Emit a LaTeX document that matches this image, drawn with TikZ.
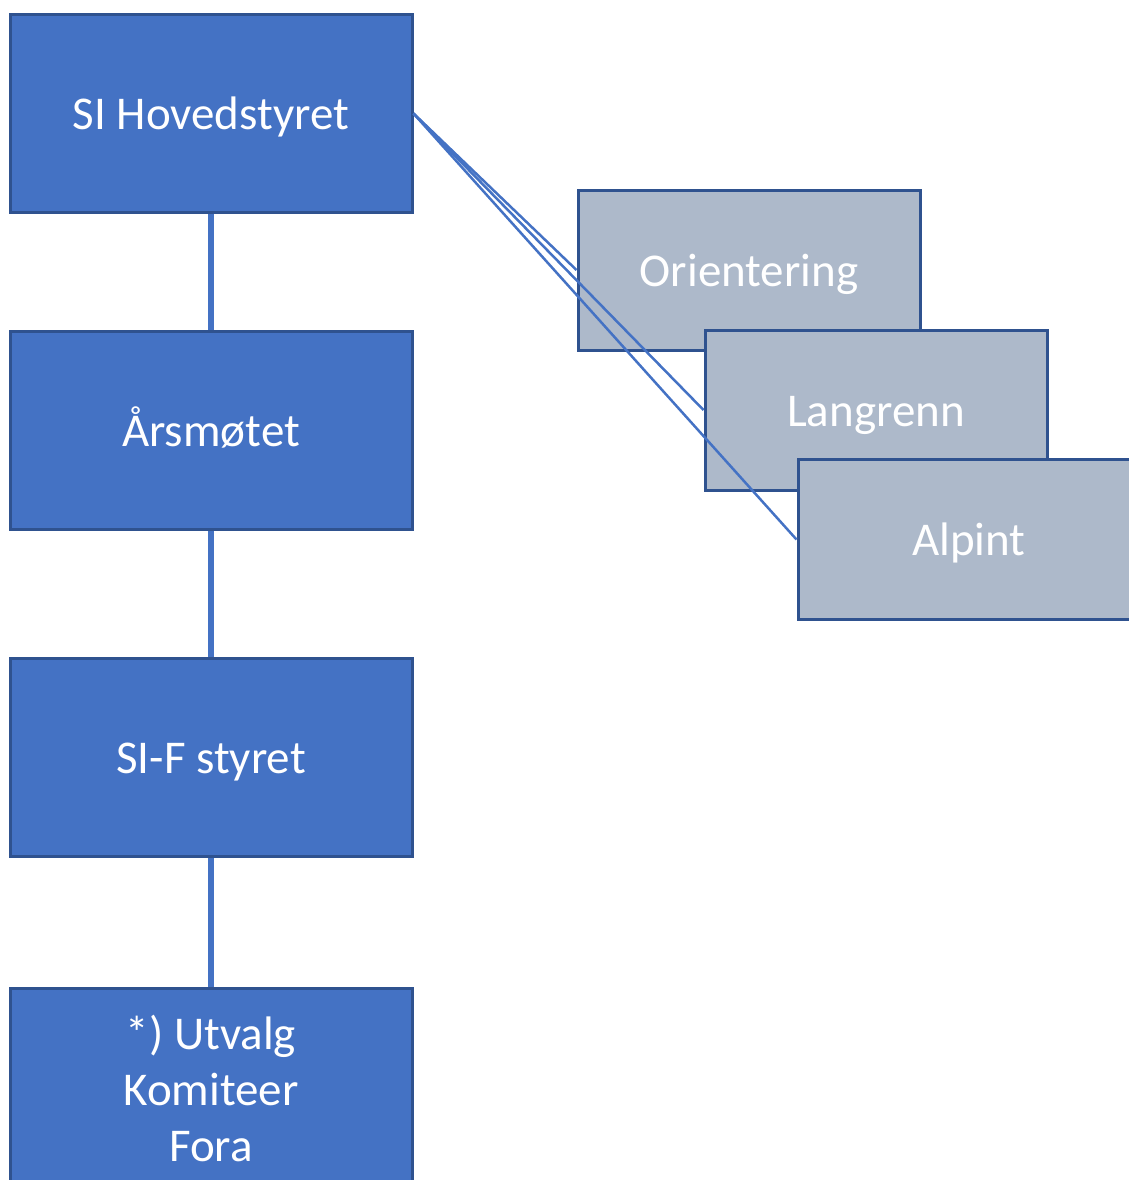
\documentclass[tikz,border=0pt]{standalone}
\usepackage{fontspec}
\setmainfont{Carlito}
\usepackage{tikz}
\definecolor{boxblue}{HTML}{4472C4}
\definecolor{boxedge}{HTML}{2F528F}
\definecolor{boxgrey}{HTML}{ADB9CA}

\begin{document}
\begin{tikzpicture}[x=1pt, y=-1pt,
    mainbox/.style={draw=boxedge, fill=boxblue, line width=3pt, text=white,
        minimum width=402pt, minimum height=198pt, align=center,
        font=\fontsize{47}{56}\selectfont},
    sportbox/.style={draw=boxedge, fill=boxgrey, line width=3pt, text=white,
        minimum width=342pt, minimum height=160pt, oneline,
        font=\fontsize{47}{56}\selectfont},
    oneline/.style={text height=42pt, text depth=9.5pt},
    stem/.style={draw=boxblue, line width=6pt},
    link/.style={draw=boxblue, line width=2.5pt}]
    \useasboundingbox (0,0) rectangle (1129,1180);

    % Hovedlinje
    \node[mainbox, oneline] (hoved) at (211,113.5) {SI Hovedstyret};
    \node[mainbox, oneline] (aarsmote) at (211,430) {Årsmøtet};
    \node[mainbox, oneline] (styret) at (211,757.5) {SI-F styret};
    \node[mainbox, minimum height=200pt] (utvalg) at (211,1088) {*) Utvalg\\Komiteer\\Fora};

    \draw[stem] (hoved.south) -- (aarsmote.north);
    \draw[stem] (aarsmote.south) -- (styret.north);
    \draw[stem] (styret.south) -- (utvalg.north);

    % Grupper
    \node[sportbox] (orient) at (749,270) {Orientering};
    \node[sportbox] (langrenn) at (876,410) {Langrenn};
    \node[sportbox] (alpint) at (969,539.5) {Alpint};

    % Linjer til gruppene
    \draw[link] (hoved.east) -- (orient.west);
    \draw[link] (hoved.east) -- (langrenn.west);
    \draw[link] (hoved.east) -- (alpint.west);

\end{tikzpicture}
\end{document}
